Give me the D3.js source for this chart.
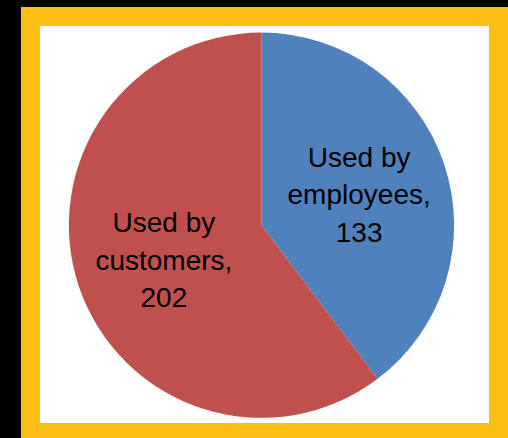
<!DOCTYPE html>
<html><head><meta charset="utf-8">
<script src="https://cdn.jsdelivr.net/npm/d3@7"></script>
<style>html,body{margin:0;padding:0;background:#000;}svg{display:block;}</style>
</head><body>
<script>
const categories = ["Used by employees", "Used by customers"];
const values = [133, 202];
const labelLines = [["Used by", "employees,", "133"], ["Used by", "customers,", "202"]];
const colors = ["#4F81BD", "#C0504D"];

const W = 508, H = 438;
const svg = d3.select("body").append("svg").attr("width", W).attr("height", H);
svg.append("rect").attr("width", W).attr("height", H).attr("fill", "#000");
svg.append("rect").attr("x", 21).attr("y", 7).attr("width", W - 21).attr("height", H - 7).attr("fill", "#FDBE14");
svg.append("rect").attr("x", 40).attr("y", 26).attr("width", 449).attr("height", 397).attr("fill", "#fff");

const cx = 261.5, cy = 225.2, R = 192.6;
const data = categories.map((c, i) => ({ c, v: values[i], lines: labelLines[i], color: colors[i] }));
const pie = d3.pie().value(d => d.v).sort(null);
const arc = d3.arc().innerRadius(0).outerRadius(R);
const labelArc = d3.arc().innerRadius(103).outerRadius(103);
const g = svg.append("g").attr("transform", `translate(${cx},${cy})`);
const arcs = pie(data);
g.selectAll("path").data(arcs).enter().append("path")
  .attr("d", arc).attr("fill", d => d.data.color);

const lh = 37.5;
arcs.forEach(a => {
  const [x, y] = labelArc.centroid(a);
  const t = g.append("text").attr("text-anchor", "middle")
    .attr("font-family", "Liberation Sans, Arial, sans-serif")
    .attr("font-size", 28).attr("fill", "#000");
  a.data.lines.forEach((ln, i) => {
    t.append("tspan").attr("x", x).attr("y", y + 12 + (i - 1) * lh).text(ln);
  });
});
</script>
</body></html>
